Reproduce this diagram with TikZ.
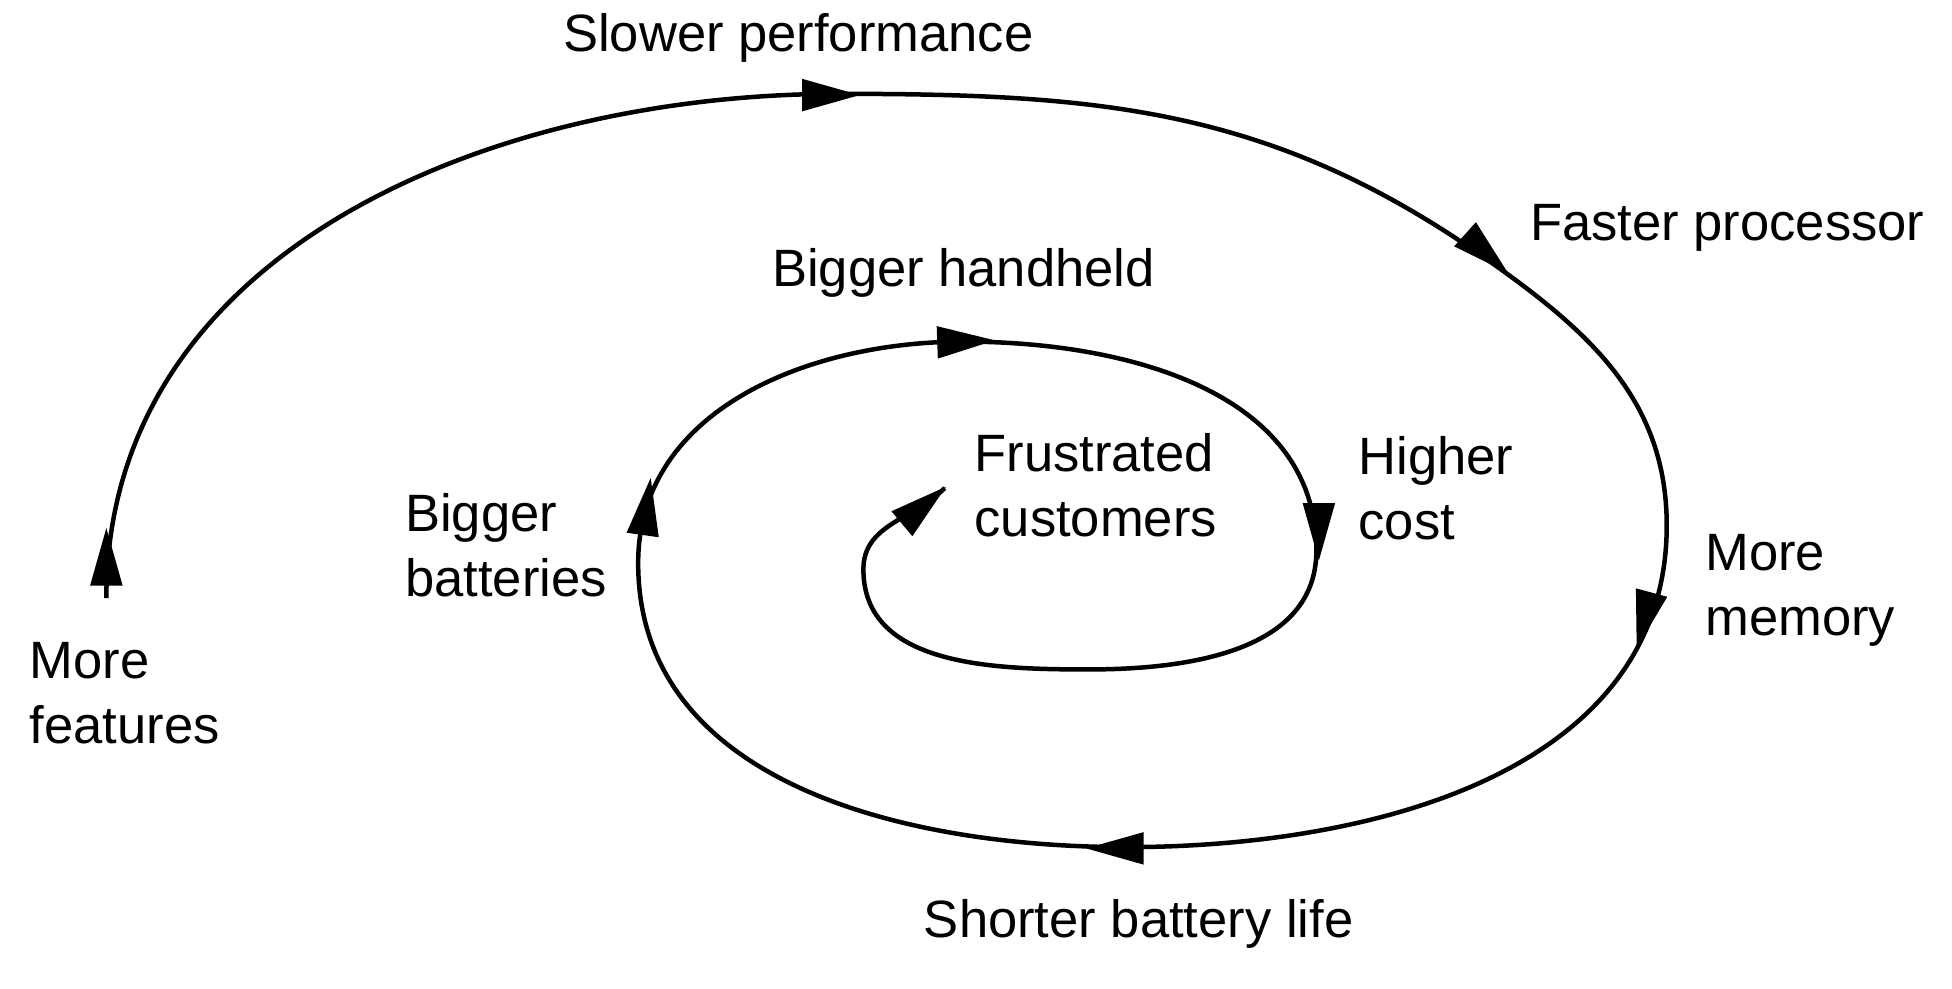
\documentclass[tikz,border=0pt]{standalone}
\usepackage{fontspec}
\setmainfont{Liberation Sans}
\begin{document}
\begin{tikzpicture}[x=0.25pt,y=0.25pt,
  lab/.style={font=\fontsize{10.5}{13}\selectfont,align=left,inner sep=0pt},
  spiral/.style={line width=0.9pt}]
\useasboundingbox (0,0) rectangle (1560,-790);
\newcommand\arrhead[3]{\fill[shift={(#1,#2)},rotate=#3] (0,0) -- (-46,13) -- (-46,-13) -- cycle;}
\draw[spiral] (85,-478) to[out=90,in=180] (670,-75) to[out=0,in=145] (1185,-205)
  to[out=-35,in=90] (1332,-420) to[out=-90,in=0] (900,-677)
  to[out=180,in=-90] (510,-450) to[out=90,in=180] (770,-273)
  to[out=0,in=90] (1052,-440) to[out=-90,in=0] (870,-535)
  to[out=180,in=-90] (690,-455) to[out=90,in=225] (755,-390);
\arrhead{85}{-422}{90}
\arrhead{687}{-76}{0}
\arrhead{1205}{-218}{-42}
\arrhead{1308}{-518}{-105}
\arrhead{868}{-678}{180}
\arrhead{520}{-382}{82}
\arrhead{795}{-272}{2}
\arrhead{1054}{-448}{-90}
\arrhead{756}{-389}{40}
\node[lab] (sp) at (638,-30) {Slower performance};
\node[lab,anchor=west] (fp) at (1222,-182) {Faster processor};
\node[lab] (bh) at (770,-218) {Bigger handheld};
\node[lab,anchor=west] (fc) at (778,-388) {Frustrated\\customers};
\node[lab,anchor=west] (hc) at (1085,-390) {Higher\\cost};
\node[lab,anchor=west] (mm) at (1362,-472) {More\\memory};
\node[lab,anchor=west] (bb) at (323,-436) {Bigger\\batteries};
\node[lab,anchor=west] (mf) at (23,-554) {More\\features};
\node[lab] (sb) at (910,-738) {Shorter battery life};
\end{tikzpicture}
\end{document}
